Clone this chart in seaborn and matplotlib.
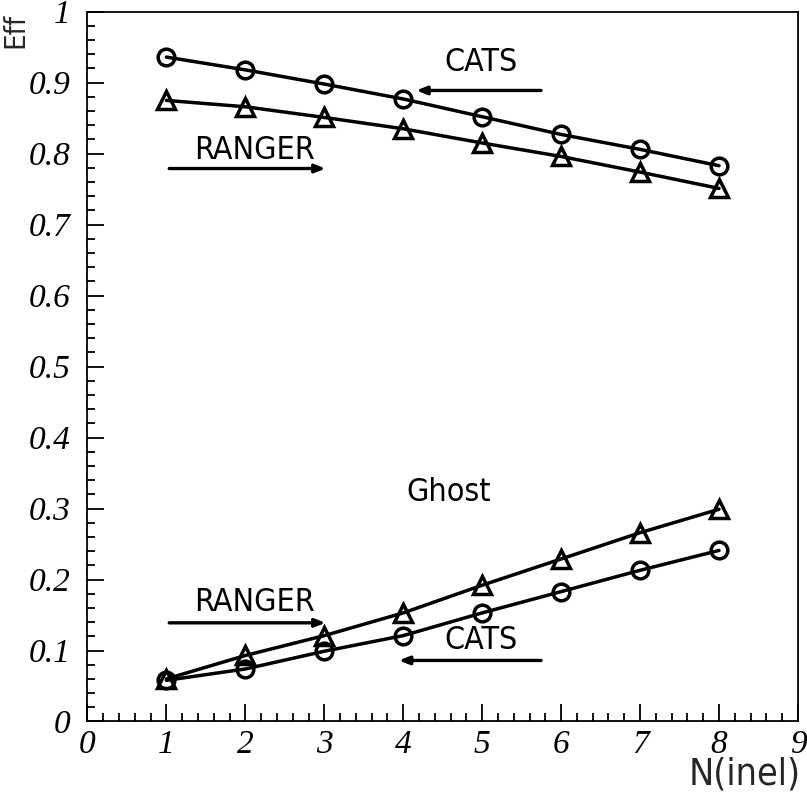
import matplotlib

matplotlib.use("Agg")
import matplotlib.pyplot as plt
import numpy as np
import pandas as pd
import seaborn as sns
from matplotlib.ticker import MultipleLocator

# values
n_inel = [1, 2, 3, 4, 5, 6, 7, 8]
cats_eff = [0.936, 0.918, 0.898, 0.877, 0.852, 0.827, 0.806, 0.783]
ranger_eff = [0.875, 0.866, 0.851, 0.835, 0.815, 0.796, 0.774, 0.751]
cats_ghost = [0.058, 0.074, 0.099, 0.121, 0.153, 0.183, 0.213, 0.241]
ranger_ghost = [0.060, 0.093, 0.121, 0.153, 0.192, 0.229, 0.266, 0.299]

x_ticks = [0, 1, 2, 3, 4, 5, 6, 7, 8, 9]
y_ticks = [0, 0.1, 0.2, 0.3, 0.4, 0.5, 0.6, 0.7, 0.8, 0.9, 1]
y_tick_labels = ["0", "0.1", "0.2", "0.3", "0.4", "0.5", "0.6", "0.7", "0.8", "0.9", "1"]

sns.set_theme(style="white")
plt.rcParams["font.family"] = ["DejaVu Sans"]
plt.rcParams["font.stretch"] = "condensed"

df = pd.concat(
    [
        pd.DataFrame({"n": n_inel, "val": cats_eff, "algo": "CATS", "kind": "eff"}),
        pd.DataFrame({"n": n_inel, "val": ranger_eff, "algo": "RANGER", "kind": "eff"}),
        pd.DataFrame({"n": n_inel, "val": cats_ghost, "algo": "CATS", "kind": "ghost"}),
        pd.DataFrame({"n": n_inel, "val": ranger_ghost, "algo": "RANGER", "kind": "ghost"}),
    ]
)

fig = plt.figure(figsize=(8.07, 7.99), dpi=100)
ax = fig.add_axes([0.1084, 0.097, 0.8804, 0.8884])

markers = {"CATS": "o", "RANGER": "^"}
sizes = {"CATS": 12, "RANGER": 13}
for (algo, kind), sub in df.groupby(["algo", "kind"]):
    sns.lineplot(
        data=sub,
        x="n",
        y="val",
        ax=ax,
        color="black",
        linewidth=2.5,
        marker=markers[algo],
        markersize=sizes[algo],
        markerfacecolor="none",
        markeredgecolor="black",
        markeredgewidth=2.5,
        legend=False,
    )

ax.set_xlim(0, 9)
ax.set_ylim(0, 1)
ax.set_xticks(x_ticks)
ax.set_yticks(y_ticks)
ax.set_yticklabels(y_tick_labels)
ax.xaxis.set_minor_locator(MultipleLocator(0.2))
ax.yaxis.set_minor_locator(MultipleLocator(0.02))
ax.tick_params(axis="both", which="both", bottom=True, left=True, top=False, right=False)
ax.tick_params(axis="both", which="major", direction="in", length=12, width=1.3, colors="black")
ax.tick_params(axis="both", which="minor", direction="in", length=6, width=1.3, colors="black")
ax.tick_params(axis="y", which="major", pad=12)
ax.tick_params(axis="x", which="major", pad=6)
for lab in ax.get_xticklabels() + ax.get_yticklabels():
    lab.set_family("Liberation Serif")
    lab.set_style("italic")
    lab.set_fontsize(24)
for sp in ax.spines.values():
    sp.set_color("black")
    sp.set_linewidth(1.3)
ax.set_xlabel("")
ax.set_ylabel("")

fig.text(0.019, 0.984, "Eff", rotation=90, ha="center", va="top", fontsize=21)
fig.text(0.992, 0.031, "N(inel)", ha="right", va="center", fontsize=27)

# annotations: labels with arrows
txt_kw = dict(fontsize=23, ha="center", va="center", color="black")
arr_kw = dict(arrowstyle="-|>,head_length=0.5,head_width=0.2", color="black", lw=2.4)
ax.text(4.99, 0.928, "CATS", **txt_kw)
ax.annotate("", xy=(4.13, 0.889), xytext=(5.78, 0.889), arrowprops=arr_kw)
ax.text(2.12, 0.805, "RANGER", **txt_kw)
ax.annotate("", xy=(3.05, 0.779), xytext=(1.0, 0.779), arrowprops=arr_kw)
ax.text(4.57, 0.322, "Ghost", **txt_kw)
ax.text(2.12, 0.168, "RANGER", **txt_kw)
ax.annotate("", xy=(3.05, 0.139), xytext=(1.0, 0.139), arrowprops=arr_kw)
ax.text(4.99, 0.114, "CATS", **txt_kw)
ax.annotate("", xy=(3.91, 0.086), xytext=(5.78, 0.086), arrowprops=arr_kw)

fig.savefig("out.png", dpi=100)
